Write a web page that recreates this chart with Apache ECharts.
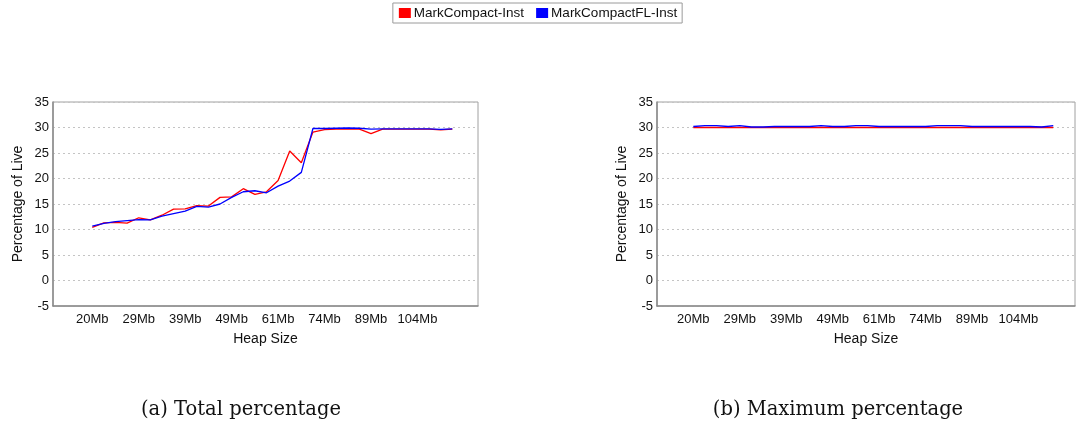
<!DOCTYPE html>
<html>
<head>
<meta charset="utf-8">
<script src="https://cdn.jsdelivr.net/npm/echarts@6/dist/echarts.min.js"></script>
<style>
  html, body { margin: 0; padding: 0; background: #fff; }
  #chart { width: 1076px; height: 426px; }
</style>
</head>
<body>
<div id="chart"></div>
<script>
// heap sizes, one per run (only every 4th is labelled)
const heapSizes = ['20Mb', '22Mb', '24Mb', '27Mb', '29Mb', '31Mb', '34Mb', '36Mb',
  '39Mb', '41Mb', '44Mb', '46Mb', '49Mb', '52Mb', '55Mb', '58Mb',
  '61Mb', '64Mb', '67Mb', '70Mb', '74Mb', '78Mb', '82Mb', '85Mb',
  '89Mb', '93Mb', '96Mb', '100Mb', '104Mb', '108Mb', '112Mb', '116Mb'];
const labelIndexes = [0, 4, 8, 12, 16, 20, 24, 28];
const yTicks = { min: -5, max: 35, interval: 5 };

// (a) total percentage
const totalMC = [10.4, 11.3, 11.4, 11.25, 12.3, 11.9, 12.8, 14.0, 14.05, 14.7, 14.6, 16.3, 16.4, 18.0,
  16.9, 17.4, 19.6, 25.4, 23.1, 29.1, 29.6, 29.7, 29.7, 29.7, 28.8, 29.7, 29.7, 29.7, 29.7, 29.7, 29.55, 29.7];
const totalMCFL = [10.65, 11.2, 11.55, 11.75, 11.95, 11.9, 12.6, 13.1, 13.6, 14.55, 14.4, 15.0, 16.3, 17.4,
  17.6, 17.2, 18.5, 19.5, 21.2, 29.8, 29.8, 29.85, 29.9, 29.85, 29.7, 29.75, 29.75, 29.75, 29.75, 29.75, 29.65, 29.75];

// (b) maximum percentage
const maxMC = [30.0, 30.0, 30.0, 30.0, 30.0, 30.0, 30.0, 30.0, 30.0, 30.0, 30.0, 30.0, 30.0, 30.0,
  30.0, 30.0, 30.0, 30.0, 30.0, 30.0, 30.0, 30.0, 30.0, 30.0, 30.0, 30.0, 30.0, 30.0, 30.0, 30.0, 30.05, 30.0];
const maxMCFL = [30.2, 30.35, 30.35, 30.2, 30.35, 30.1, 30.1, 30.2, 30.2, 30.2, 30.2, 30.35, 30.2, 30.2,
  30.35, 30.35, 30.2, 30.2, 30.2, 30.2, 30.2, 30.35, 30.35, 30.35, 30.2, 30.2, 30.2, 30.2, 30.2, 30.2, 30.1, 30.35];

const seriesNames = ['MarkCompact-Inst', 'MarkCompactFL-Inst'];
const colors = ['#ff0000', '#0000ff'];
const captions = ['(a) Total percentage', '(b) Maximum percentage'];

const font = 'Liberation Sans';
const toPairs = (vals) => vals.map((v, i) => [i, v]);

function xAxisFor(gridIndex, min, max) {
  return {
    type: 'value', gridIndex, min, max,
    name: 'Heap Size', nameLocation: 'middle', nameGap: 26,
    nameTextStyle: { fontFamily: font, fontSize: 14, color: '#111' },
    axisLine: { show: true, onZero: false, lineStyle: { color: '#8a8a8a', width: 1.5 } },
    axisTick: { show: false },
    splitLine: { show: false },
    axisLabel: {
      customValues: labelIndexes, margin: 7,
      fontFamily: font, fontSize: 13, color: '#111',
      formatter: (v) => heapSizes[v]
    }
  };
}

function yAxisFor(gridIndex) {
  return {
    type: 'value', gridIndex, min: yTicks.min, max: yTicks.max, interval: yTicks.interval,
    name: 'Percentage of Live', nameLocation: 'middle', nameGap: 28,
    nameTextStyle: { fontFamily: font, fontSize: 14, color: '#111' },
    axisLine: { show: true, onZero: false, lineStyle: { color: '#8a8a8a', width: 1.5 } },
    axisTick: { show: false },
    axisLabel: { margin: 4, fontFamily: font, fontSize: 13, color: '#111' },
    splitLine: { lineStyle: { color: '#c4c4c4', type: [2, 3], width: 1 } }
  };
}

function lineSeries(name, vals, axisIndex, color) {
  return {
    name, type: 'line', xAxisIndex: axisIndex, yAxisIndex: axisIndex,
    data: toPairs(vals), showSymbol: false, symbol: 'none',
    lineStyle: { color, width: 1.3 }, itemStyle: { color },
    animation: false
  };
}

const chart = echarts.init(document.getElementById('chart'), null, { renderer: 'canvas' });
chart.setOption({
  animation: false,
  legend: {
    data: seriesNames, left: 'center', top: 3,
    icon: 'rect', itemWidth: 12, itemHeight: 10, itemGap: 12,
    padding: [3, 5, 3, 6],
    borderColor: '#9a9a9a', borderWidth: 1,
    textStyle: { fontFamily: font, fontSize: 13.5, color: '#111', padding: [0, 0, 0, -2] }
  },
  grid: [
    { left: 53, top: 102, width: 425, height: 204, show: true, borderColor: '#a0a0a0', borderWidth: 1 },
    { left: 657, top: 102, width: 418, height: 204, show: true, borderColor: '#a0a0a0', borderWidth: 1 }
  ],
  xAxis: [xAxisFor(0, -3.38, 33.21), xAxisFor(1, -3.13, 32.87)],
  yAxis: [yAxisFor(0), yAxisFor(1)],
  series: [
    lineSeries(seriesNames[0], totalMC, 0, colors[0]),
    lineSeries(seriesNames[1], totalMCFL, 0, colors[1]),
    lineSeries(seriesNames[0], maxMC, 1, colors[0]),
    lineSeries(seriesNames[1], maxMCFL, 1, colors[1])
  ],
  graphic: captions.map((text, i) => ({
    type: 'text', x: i === 0 ? 241 : 838, y: 410,
    style: {
      text, textAlign: 'center', textVerticalAlign: 'middle',
      font: '19.5px "DejaVu Serif"', fill: '#111'
    }
  }))
});
</script>
</body>
</html>
